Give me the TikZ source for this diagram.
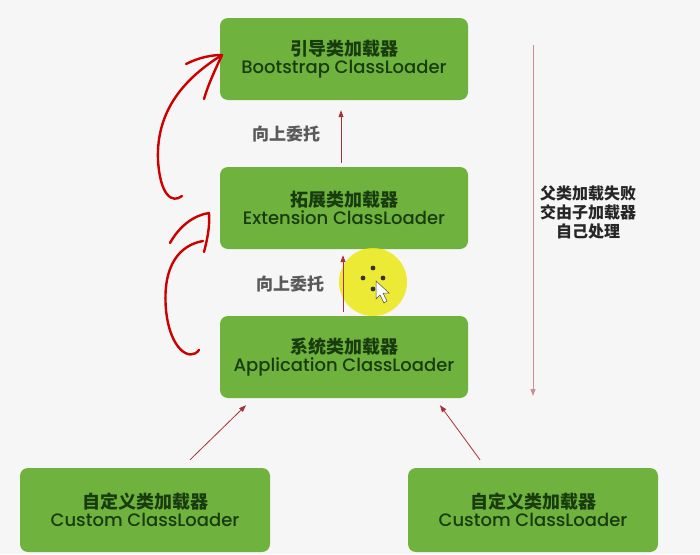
\documentclass[tikz,border=0pt]{standalone}
\usepackage{fontspec}
\setmainfont{Poppins}[BoldFont={Poppins Medium}]
\newfontfamily\cjk{Noto Sans CJK SC}
\usetikzlibrary{arrows.meta}
\definecolor{loader}{RGB}{112,178,62}
\definecolor{loadertext}{RGB}{24,60,14}
\definecolor{delegate}{RGB}{168,48,58}
\definecolor{pen}{RGB}{205,0,0}
\definecolor{paper}{RGB}{246,246,246}
\definecolor{pointer}{RGB}{236,232,20}
\newcommand{\textdelegate}{向上委托}
\newcommand{\textfail}{父类加载失败\\交由子加载器\\自己处理}

\begin{document}
\begin{tikzpicture}[x=1pt,y=-1pt,
	loaderbox/.style={fill=loader,rounded corners=8pt,minimum width=248pt,%
		minimum height=82pt,text=loadertext,align=center,inner sep=0pt,%
		font=\fontsize{18}{18}\selectfont\bfseries},
	up/.style={draw=delegate,line width=0.8pt,-{Triangle[length=7pt,width=5pt]}},
	note/.style={text=black!65,align=center,font=\cjk\bfseries\fontsize{17}{19}\selectfont},
	pencurve/.style={draw=pen,line width=2.4pt,line cap=round,line join=round}
	]
	\fill[paper] (0,0) rectangle (700,554);

	% loaders
	\node[loaderbox] (boot) at (344,59) {{\cjk 引导类加载器}\\Bootstrap ClassLoader};
	\node[loaderbox] (ext) at (344,208) {{\cjk 拓展类加载器}\\Extension ClassLoader};
	\node[loaderbox] (app) at (344,357) {{\cjk 系统类加载器}\\Application ClassLoader};
	\node[loaderbox,minimum width=250pt,minimum height=84pt] (custA) at (145,510) {{\cjk 自定义类加载器}\\Custom ClassLoader};
	\node[loaderbox,minimum width=250pt,minimum height=84pt] (custB) at (533,510) {{\cjk 自定义类加载器}\\Custom ClassLoader};

	% cursor highlight
	\fill[pointer,opacity=.85] (373,282) circle (34);
	\foreach \px/\py in {373/268,363/278,383/278,373/289}
		\fill[black!80] (\px,\py) circle (2.4);
	\filldraw[fill=white,draw=black!70,line width=0.5pt] (376,281) -- (376,299) -- (380,295) -- (384,303) -- (387,301) -- (383,293) -- (389,293) -- cycle;

	% delegation upwards
	\draw[up] ([xshift=-3pt,yshift=4pt]ext.north) -- ([xshift=-3pt,yshift=-10pt]boot.south);
	\draw[up] ([xshift=-1pt,yshift=4pt]app.north) -- ([xshift=-1pt,yshift=-6pt]ext.south);
	\node[note] (upA) at (286,134) {\textdelegate};
	\node[note] (upB) at (290,284) {\textdelegate};
	\draw[up] ([xshift=45pt,yshift=8pt]custA.north) -- ([xshift=-98pt,yshift=-7pt]app.south);
	\draw[up] ([xshift=-53pt,yshift=8pt]custB.north) -- ([xshift=96pt,yshift=-7pt]app.south);

	% failure goes back down
	\coordinate (failTop) at (533,45);
	\coordinate (failEnd) at (533,396);
	\draw[up,draw=delegate!55] (failTop) -- (failEnd);
	\node[note,text=black!85,font=\cjk\bfseries\fontsize{16}{19}\selectfont] (fail) at (588,212) {\textfail};

	% hand drawn marks
	\coordinate (penA) at (182,196);
	\coordinate (tipA) at (222,55);
	\draw[pencurve] (penA) .. controls (172,204) and (160,195) .. (158,160)
		.. controls (156,110) and (185,78) .. (tipA);
	\draw[pencurve] (186,64) .. controls (200,57) and (212,55) .. (tipA)
		.. controls (215,70) and (208,85) .. (204,99);
	\coordinate (penB) at (199,350);
	\coordinate (tipB) at (209,213);
	\draw[pencurve] (penB) .. controls (190,362) and (170,350) .. (166,310)
		.. controls (162,265) and (180,245) .. (203,241);
	\draw[pencurve] (170,243) .. controls (180,225) and (195,215) .. (tipB)
		.. controls (210,228) and (207,240) .. (204,252);
\end{tikzpicture}
\end{document}
